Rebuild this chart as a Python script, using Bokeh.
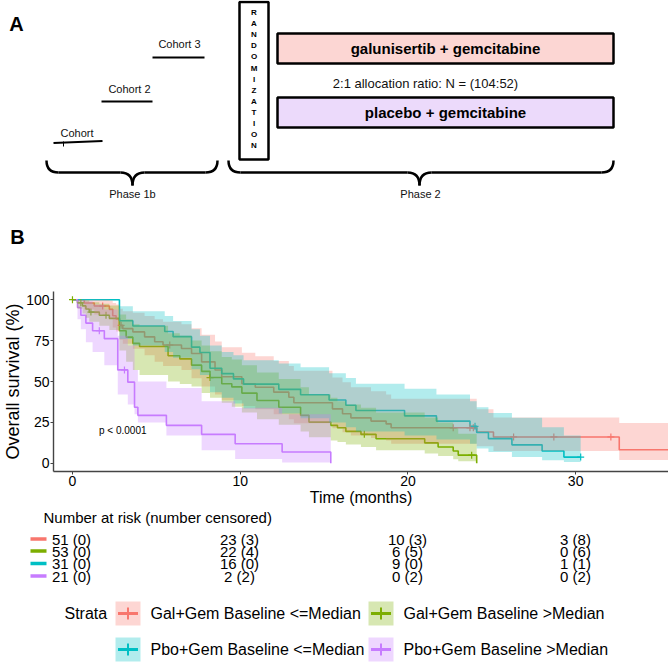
import numpy as np
from bokeh.plotting import figure
from bokeh.models import Range1d, FixedTicker
from bokeh.layouts import column
from bokeh.core.properties import value
from bokeh.embed import file_html
from bokeh.resources import INLINE

FONT = value("Liberation Sans")

# ---------------- data ----------------
strata = ["Gal+Gem Baseline <=Median", "Gal+Gem Baseline >Median",
          "Pbo+Gem Baseline <=Median", "Pbo+Gem Baseline >Median"]
colors = ["#F8766D", "#7CAE00", "#00BFC4", "#C77CFF"]

red_t = [0, 0.7, 1.3, 2.2, 2.4, 2.6, 2.8, 3.0, 3.6, 4.3, 4.9, 5.4, 6.5, 7.1, 7.7, 8.5, 8.9, 10.1, 10.9, 12.0, 12.9, 13.2, 15.5, 16.1, 16.6, 17.8, 18.7, 19.0, 24.1, 25.1, 32.6]
red_s = [100, 98.0, 96.1, 94.1, 90.2, 88.2, 84.3, 82.3, 80.3, 77.3, 74.3, 72.3, 70.2, 67.1, 62.0, 57.0, 52.9, 48.6, 46.5, 43.5, 40.4, 37.0, 33.3, 30.3, 27.8, 25.8, 24.1, 21.7, 19.1, 16.1, 8.3]
red_hi = [100, 100, 100, 99.5, 98, 97, 94.5, 93, 92, 90, 88, 86.5, 85, 82.5, 78.5, 74.5, 71, 67.5, 65.5, 62.5, 59.5, 56.5, 52.5, 49.5, 46.5, 44, 42, 39.5, 33, 28, 24.6]
red_lo = [100, 94, 91, 88.5, 83, 80.5, 75.5, 73, 70, 66, 62, 59.5, 57, 52, 47, 42, 38.5, 35, 33, 30, 27, 24.5, 21.5, 19, 17, 15.5, 14, 12, 10.5, 7.5, 2]
red_end = 36.0
red_cens = [1.8, 2.9, 5.8, 22.7, 23.7, 23.9, 26.3, 28.7, 32.1]

green_t = [0, 0.3, 0.6, 0.8, 1.0, 1.6, 2.2, 2.8, 3.2, 3.6, 4.0, 5.7, 6.4, 7.1, 7.7, 8.2, 8.9, 9.5, 10.1, 11.0, 12.3, 13.6, 14.1, 15.4, 15.8, 16.3, 17.2, 18.1, 21.0, 21.8, 22.7, 23.0, 24.1]
green_s = [100, 98.1, 96.2, 94.3, 92.4, 90.5, 88.6, 81.0, 77.1, 73.3, 71.4, 65.7, 63.8, 60.0, 56.2, 52.4, 48.6, 46.7, 42.9, 38.4, 34.3, 29.3, 25.2, 23.2, 21.7, 19.5, 17.7, 15.0, 12.5, 10.0, 7.5, 5.0, 0]
green_hi = [100, 100, 100, 99.5, 98.5, 97.5, 96.5, 91, 88, 85, 84, 79.5, 78, 75, 72, 68.5, 65, 63.5, 60, 55.5, 51.5, 46.5, 42, 40, 38, 36, 34, 31, 28, 25, 21.5, 18, 0]
green_lo = [100, 94.5, 91.5, 89, 86.5, 84, 81.5, 69, 62, 57, 54, 50, 48.5, 47, 43, 40, 37, 34.5, 31, 27, 23.5, 19.5, 16, 14, 13, 11.5, 10, 8, 6, 4.5, 2.5, 1.3, 0]
green_end = 24.1
green_cens = [0.0, 0.5, 1.1, 2.0, 8.2, 17.4, 23.8]

cyan_t = [0, 2.8, 3.6, 5.5, 6.0, 7.1, 7.6, 8.2, 8.9, 9.6, 10.2, 12.3, 13.6, 15.3, 16.3, 16.9, 19.8, 21.7, 23.7, 24.1, 24.8, 26.2, 28.0, 29.3]
cyan_s = [100, 87.1, 83.9, 80.6, 77.4, 71.0, 67.7, 58.1, 54.8, 51.6, 48.4, 45.2, 41.9, 38.7, 35.5, 32.3, 29.0, 25.8, 22.6, 18.8, 15.1, 11.3, 7.5, 3.8]
cyan_hi = [100, 96, 93, 90, 87, 82, 78, 72, 68, 66, 63, 61, 58.7, 55, 52.2, 48.6, 45.5, 42, 38, 34.3, 30.7, 27.8, 22, 17]
cyan_lo = [100, 76, 72, 68, 64.5, 57.5, 54, 43.5, 40, 36.5, 33.5, 30.5, 27.5, 25, 22, 19.5, 17, 14.5, 12, 9, 6.9, 3.9, 1.8, 0.8]
cyan_end = 30.3
cyan_cens = [24.0, 30.3]

purple_t = [0, 0.3, 0.5, 0.8, 1.2, 1.9, 2.7, 3.3, 3.7, 3.9, 5.6, 7.7, 9.7, 12.5, 15.4]
purple_s = [100, 95.2, 90.5, 85.7, 81.0, 76.2, 57.1, 49.6, 34.3, 29.3, 23.2, 17.7, 12.0, 6.9, 0]
purple_hi = [100, 100, 100, 99, 97, 94, 78, 72, 57, 50, 46, 38, 34, 30, 0]
purple_lo = [100, 88, 82, 74, 68, 60, 42, 36, 30, 25, 17, 8, 2.7, 0.5, 0]
purple_end = 15.4
purple_cens = [1.6, 3.1]

risk_times = [0, 10, 20, 30]
at_risk = [[51, 23, 10, 3], [53, 22, 6, 0], [31, 16, 9, 1], [21, 2, 0, 0]]
censored = [[0, 3, 3, 8], [0, 4, 5, 6], [0, 0, 0, 1], [0, 2, 2, 2]]

x_ticks = [0, 10, 20, 30]
y_ticks = [0, 25, 50, 75, 100]

curves = [
    (red_t, red_s, red_lo, red_hi, red_end, red_cens),
    (green_t, green_s, green_lo, green_hi, green_end, green_cens),
    (cyan_t, cyan_s, cyan_lo, cyan_hi, cyan_end, cyan_cens),
    (purple_t, purple_s, purple_lo, purple_hi, purple_end, purple_cens),
]

# ---------------- layout constants (pixel geometry of the page) ----------------
W = 668
PX_PER_MONTH = 16.8
T0_PX = 71.0            # page x of t = 0
KM_LEFT = 52            # left border of the survival plot (room for its y axis)
def px2t(px):
    return (px - T0_PX) / PX_PER_MONTH

TOP_H, KM_H, BOT_H = 250, 259, 154
KM_Y0 = TOP_H
BOT_Y0 = TOP_H + KM_H

def clean(p):
    p.outline_line_color = None
    p.xgrid.visible = False
    p.ygrid.visible = False
    p.background_fill_color = None
    p.border_fill_color = None

# ---------------- Panel A: study design diagram ----------------
p1 = figure(width=W, height=TOP_H, x_range=Range1d(0, W), y_range=Range1d(TOP_H, 0),
            x_axis_type=None, y_axis_type=None, output_backend="svg",
            toolbar_location=None, min_border=0, frame_align=False)
clean(p1)

p1.text(x=[16, 17], y=[23, 236], text=["A", "B"], text_font=FONT, text_font_size="20px",
        text_font_style="bold", text_align="center", text_baseline="middle", text_color="black")

coh_labels = ["Cohort", "Cohort 2", "Cohort 3"]
coh_lx = [76.5, 129, 179]
coh_ly = [132, 88, 43]
p1.text(x=coh_lx, y=coh_ly, text=coh_labels, text_font=FONT, text_font_size="11px",
        text_align="center", text_baseline="middle", text_color="#111111")
p1.segment(x0=[53, 101, 152], y0=[142.5, 101, 57], x1=[102, 152, 204], y1=[140.5, 101, 57],
           line_color="black", line_width=2)
p1.segment(x0=[63], y0=[141], x1=[63], y1=[146], line_color="black", line_width=1)

p1.quad(left=[239], right=[268], top=[1.5], bottom=[159], fill_color="white",
        line_color="black", line_width=2.5)
letters = list("RANDOMIZATION")
ly = [12 + i * 11.1 for i in range(len(letters))]
p1.text(x=[253.5] * len(letters), y=ly, text=letters, text_font=FONT, text_font_size="8px",
        text_font_style="bold", text_align="center", text_baseline="middle", text_color="black")

p1.quad(left=[277, 277], right=[613, 613], top=[33, 97], bottom=[63, 127],
        fill_color=["#FCD6D3", "#ECDAFB"], line_color="black", line_width=2.5)
p1.text(x=[445, 445], y=[48, 112], text=["galunisertib + gemcitabine", "placebo + gemcitabine"],
        text_font=FONT, text_font_size="15px", text_font_style="bold",
        text_align="center", text_baseline="middle", text_color="black")
p1.text(x=[425], y=[83], text=["2:1 allocation ratio: N = (104:52)"], text_font=FONT,
        text_font_size="13px", text_align="center", text_baseline="middle", text_color="#111111")

def brace(p, xl, xr, xm, ytop=160, ybot=172, ytip=185, r=12):
    p.quadratic(x0=[xl, xm - r, xm, xr - r], y0=[ytop, ybot, ytip, ybot],
                x1=[xl + r, xm, xm + r, xr], y1=[ybot, ytip, ybot, ytop],
                cx=[xl, xm, xm, xr], cy=[ybot, ybot, ybot, ybot],
                line_color="black", line_width=2.5)
    p.segment(x0=[xl + r, xm + r], y0=[ybot, ybot], x1=[xm - r, xr - r], y1=[ybot, ybot],
              line_color="black", line_width=2.5)

brace(p1, 46, 217, 132)
brace(p1, 228, 613, 419)
p1.text(x=[132, 420], y=[193, 193], text=["Phase 1b", "Phase 2"], text_font=FONT,
        text_font_size="11px", text_align="center", text_baseline="middle", text_color="#111111")

# ---------------- Panel B: Kaplan-Meier plot ----------------
p2 = figure(width=W, height=KM_H, x_range=Range1d(px2t(KM_LEFT), px2t(W)),
            y_range=Range1d(-5, 105), output_backend="svg", toolbar_location=None,
            min_border_left=KM_LEFT, min_border_top=291 - KM_Y0,
            min_border_bottom=BOT_Y0 - 471, min_border_right=0, frame_align=False)
clean(p2)

def step_xy(t, v, end):
    xs, ys = [], []
    for i in range(len(t)):
        nxt = t[i + 1] if i + 1 < len(t) else end
        xs += [t[i], nxt]
        ys += [v[i], v[i]]
    return xs, ys

for (t, s, lo, hi, end, cens), c in zip(curves, colors):
    p2.step(x=t + [end], y=s + [s[-1]], mode="after", line_color=c, line_width=1.6)
for (t, s, lo, hi, end, cens), c in zip(curves, colors):
    idx = np.searchsorted(np.array(t), np.array(cens), side="right") - 1
    p2.scatter(x=cens, y=[s[i] for i in idx], marker="cross", size=7,
               line_color=c, line_width=1.2)
for (t, s, lo, hi, end, cens), c in zip(curves, colors):
    xs, ylo = step_xy(t, lo, end)
    _, yhi = step_xy(t, hi, end)
    p2.varea(x=xs, y1=ylo, y2=yhi, fill_color=c, fill_alpha=0.3)

p2.text(x=[3.0], y=[20], text=["p < 0.0001"], text_font=FONT, text_font_size="10px",
        text_align="center", text_baseline="middle", text_color="black")

p2.xaxis.ticker = FixedTicker(ticks=x_ticks)
p2.yaxis.ticker = FixedTicker(ticks=y_ticks)
p2.xaxis.axis_label = "Time (months)"
p2.yaxis.axis_label = "Overall survival (%)"
for ax in (p2.xaxis[0], p2.yaxis[0]):
    ax.axis_label_text_font = "Liberation Sans"
    ax.axis_label_text_font_style = "normal"
    ax.axis_label_text_color = "black"
    ax.major_label_text_font = "Liberation Sans"
    ax.major_label_text_color = "black"
    ax.major_label_text_font_size = "14px"
    ax.axis_line_color = "#444444"
    ax.axis_line_width = 1.4
    ax.major_tick_line_color = "#444444"
    ax.major_tick_out = 3
    ax.major_tick_in = 0
    ax.minor_tick_line_color = None
    ax.major_label_standoff = 1
    ax.axis_label_standoff = 0
p2.xaxis.axis_label_text_font_size = "16px"
p2.yaxis.axis_label_text_font_size = "18px"

# ---------------- Risk table + legend ----------------
p3 = figure(width=W, height=BOT_H, x_range=Range1d(px2t(0), px2t(W)),
            y_range=Range1d(BOT_Y0 + BOT_H, BOT_Y0),
            x_axis_type=None, y_axis_type=None, output_backend="svg",
            toolbar_location=None, min_border=0, frame_align=False)
clean(p3)

p3.text(x=[px2t(43)], y=[517], text=["Number at risk (number censored)"], text_font=FONT,
        text_font_size="15px", text_align="left", text_baseline="middle", text_color="black")
row_y = [538.5, 550.5, 563, 575.5]
for k in range(4):
    labels = [f"{a} ({b})" for a, b in zip(at_risk[k], censored[k])]
    p3.text(x=risk_times, y=[row_y[k]] * 4, text=labels, text_font=FONT, text_font_size="15px",
            text_align="center", text_baseline="middle", text_color="black")
p3.segment(x0=[px2t(30)] * 4, x1=[px2t(46)] * 4, y0=row_y, y1=row_y,
           line_color=colors, line_width=3.5)

p3.text(x=[px2t(64)], y=[613], text=["Strata"], text_font=FONT, text_font_size="16px",
        text_align="left", text_baseline="middle", text_color="black")
key_cx = [px2t(127.5), px2t(380.5), px2t(127.5), px2t(380.5)]
key_cy = [613, 613, 649, 649]
text_x = [px2t(150), px2t(403), px2t(150), px2t(403)]
p3.rect(x=key_cx, y=key_cy, width=25 / PX_PER_MONTH, height=24, fill_color=colors,
        fill_alpha=0.3, line_color=None)
p3.segment(x0=[x - 10 / PX_PER_MONTH for x in key_cx], x1=[x + 10 / PX_PER_MONTH for x in key_cx],
           y0=key_cy, y1=key_cy, line_color=colors, line_width=3)
p3.segment(x0=key_cx, x1=key_cx, y0=[y - 6 for y in key_cy], y1=[y + 6 for y in key_cy],
           line_color=colors, line_width=2)
p3.text(x=text_x, y=key_cy, text=strata, text_font=FONT, text_font_size="16px",
        text_align="left", text_baseline="middle", text_color="black")

layout = column(p1, p2, p3, spacing=0)
open("out.html", "w").write(file_html(layout, INLINE))
